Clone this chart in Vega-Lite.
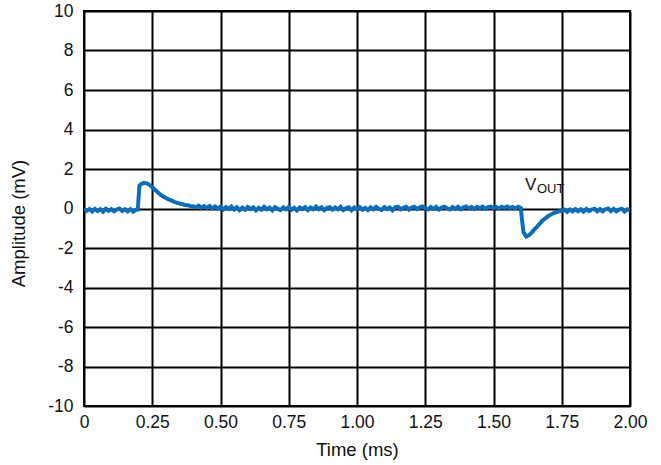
{
  "$schema": "https://vega.github.io/schema/vega-lite/v6.json",
  "width": 546,
  "height": 395,
  "autosize": "none",
  "padding": {"left": 84, "top": 11, "right": 31, "bottom": 59},
  "background": "white",
  "config": {
    "view": {"stroke": "black", "strokeWidth": 2},
    "axis": {
      "labelFont": "Liberation Sans",
      "titleFont": "Liberation Sans",
      "labelFontSize": 17.5,
      "titleFontSize": 18.5,
      "titleFontWeight": "normal",
      "labelColor": "#111",
      "titleColor": "#111",
      "grid": true,
      "gridColor": "black",
      "gridWidth": 2,
      "gridOpacity": 1,
      "domain": false,
      "ticks": false,
      "labelOverlap": false,
      "labelFlush": false,
      "labelBound": false
    }
  },
  "datasets": {
    "sig": [
      {"t":0.00,"v":-0.02},{"t":0.01,"v":-0.12},{"t":0.02,"v":-0.03},{"t":0.03,"v":-0.15},{"t":0.04,"v":-0.02},
      {"t":0.05,"v":-0.13},{"t":0.06,"v":-0.04},{"t":0.07,"v":-0.16},{"t":0.08,"v":-0.01},{"t":0.09,"v":-0.12},
      {"t":0.10,"v":-0.03},{"t":0.11,"v":-0.14},{"t":0.12,"v":-0.05},{"t":0.13,"v":0.00},{"t":0.14,"v":-0.13},
      {"t":0.15,"v":-0.04},{"t":0.16,"v":-0.15},{"t":0.17,"v":-0.03},{"t":0.18,"v":-0.16},{"t":0.19,"v":-0.07},
      {"t":0.197,"v":-0.06},{"t":0.203,"v":1.15},{"t":0.21,"v":1.24},{"t":0.22,"v":1.30},{"t":0.23,"v":1.27},
      {"t":0.24,"v":1.20},{"t":0.25,"v":1.08},{"t":0.26,"v":0.95},{"t":0.27,"v":0.82},{"t":0.28,"v":0.70},
      {"t":0.29,"v":0.61},{"t":0.30,"v":0.53},{"t":0.31,"v":0.46},{"t":0.32,"v":0.41},{"t":0.33,"v":0.34},
      {"t":0.34,"v":0.29},{"t":0.35,"v":0.25},{"t":0.36,"v":0.22},{"t":0.37,"v":0.18},{"t":0.38,"v":0.16},
      {"t":0.39,"v":0.13},{"t":0.40,"v":0.12},{"t":0.41,"v":0.06},{"t":0.42,"v":0.14},{"t":0.43,"v":0.04},
      {"t":0.44,"v":0.12},{"t":0.45,"v":0.03},{"t":0.46,"v":0.13},{"t":0.47,"v":0.01},{"t":0.48,"v":0.10},
      {"t":0.49,"v":0.00},{"t":0.50,"v":0.09},{"t":0.51,"v":-0.06},{"t":0.52,"v":0.07},{"t":0.53,"v":-0.02},
      {"t":0.54,"v":0.10},{"t":0.55,"v":-0.05},{"t":0.56,"v":0.06},{"t":0.57,"v":-0.09},{"t":0.58,"v":0.04},
      {"t":0.59,"v":-0.07},{"t":0.60,"v":0.08},{"t":0.61,"v":-0.03},{"t":0.62,"v":0.06},{"t":0.63,"v":-0.10},
      {"t":0.64,"v":0.03},{"t":0.65,"v":-0.06},{"t":0.66,"v":0.09},{"t":0.67,"v":-0.04},{"t":0.68,"v":0.05},
      {"t":0.69,"v":-0.09},{"t":0.70,"v":0.07},{"t":0.71,"v":-0.02},{"t":0.72,"v":-0.08},{"t":0.73,"v":0.06},
      {"t":0.74,"v":-0.04},{"t":0.75,"v":0.08},{"t":0.76,"v":-0.07},{"t":0.77,"v":0.03},{"t":0.78,"v":-0.10},
      {"t":0.79,"v":0.05},{"t":0.80,"v":-0.03},{"t":0.81,"v":0.07},{"t":0.82,"v":-0.08},{"t":0.83,"v":0.05},
      {"t":0.84,"v":-0.04},{"t":0.85,"v":0.10},{"t":0.86,"v":-0.03},{"t":0.87,"v":0.06},{"t":0.88,"v":-0.09},
      {"t":0.89,"v":0.03},{"t":0.90,"v":0.07},{"t":0.91,"v":-0.06},{"t":0.92,"v":0.05},{"t":0.93,"v":-0.04},
      {"t":0.94,"v":0.08},{"t":0.95,"v":-0.08},{"t":0.96,"v":0.02},{"t":0.97,"v":0.06},{"t":0.98,"v":-0.09},
      {"t":0.99,"v":0.05},{"t":1.00,"v":-0.03},{"t":1.01,"v":0.07},{"t":1.02,"v":-0.06},{"t":1.03,"v":0.03},
      {"t":1.04,"v":-0.08},{"t":1.05,"v":0.06},{"t":1.06,"v":-0.04},{"t":1.07,"v":0.08},{"t":1.08,"v":-0.02},
      {"t":1.09,"v":-0.07},{"t":1.10,"v":0.07},{"t":1.11,"v":-0.03},{"t":1.12,"v":0.05},{"t":1.13,"v":-0.09},
      {"t":1.14,"v":0.06},{"t":1.15,"v":0.09},{"t":1.16,"v":-0.04},{"t":1.17,"v":0.03},{"t":1.18,"v":0.08},
      {"t":1.19,"v":-0.06},{"t":1.20,"v":0.05},{"t":1.21,"v":0.09},{"t":1.22,"v":-0.03},{"t":1.23,"v":0.06},
      {"t":1.24,"v":0.10},{"t":1.25,"v":0.01},{"t":1.26,"v":-0.05},{"t":1.27,"v":0.07},{"t":1.28,"v":-0.02},
      {"t":1.29,"v":0.08},{"t":1.30,"v":-0.06},{"t":1.31,"v":0.05},{"t":1.32,"v":0.09},{"t":1.33,"v":0.01},
      {"t":1.34,"v":-0.05},{"t":1.35,"v":0.07},{"t":1.36,"v":-0.02},{"t":1.37,"v":0.08},{"t":1.38,"v":-0.04},
      {"t":1.39,"v":0.06},{"t":1.40,"v":0.10},{"t":1.41,"v":0.01},{"t":1.42,"v":0.07},{"t":1.43,"v":-0.03},
      {"t":1.44,"v":0.08},{"t":1.45,"v":0.02},{"t":1.46,"v":0.09},{"t":1.47,"v":-0.02},{"t":1.48,"v":0.07},
      {"t":1.49,"v":0.10},{"t":1.50,"v":0.02},{"t":1.51,"v":0.08},{"t":1.52,"v":-0.01},{"t":1.53,"v":0.09},
      {"t":1.54,"v":0.03},{"t":1.55,"v":0.10},{"t":1.56,"v":0.02},{"t":1.57,"v":0.08},{"t":1.58,"v":-0.01},
      {"t":1.59,"v":0.09},{"t":1.60,"v":0.03},{"t":1.605,"v":-0.65},{"t":1.61,"v":-1.20},{"t":1.62,"v":-1.42},
      {"t":1.63,"v":-1.35},{"t":1.64,"v":-1.22},{"t":1.65,"v":-1.06},{"t":1.66,"v":-0.92},{"t":1.67,"v":-0.76},
      {"t":1.68,"v":-0.60},{"t":1.69,"v":-0.50},{"t":1.70,"v":-0.39},{"t":1.71,"v":-0.31},{"t":1.72,"v":-0.23},
      {"t":1.73,"v":-0.19},{"t":1.74,"v":-0.14},{"t":1.75,"v":-0.12},{"t":1.76,"v":-0.06},{"t":1.77,"v":-0.17},
      {"t":1.78,"v":-0.05},{"t":1.79,"v":-0.15},{"t":1.80,"v":-0.03},{"t":1.81,"v":-0.14},{"t":1.82,"v":-0.04},
      {"t":1.83,"v":-0.16},{"t":1.84,"v":-0.02},{"t":1.85,"v":-0.13},{"t":1.86,"v":-0.05},{"t":1.87,"v":-0.01},
      {"t":1.88,"v":-0.14},{"t":1.89,"v":-0.03},{"t":1.90,"v":-0.15},{"t":1.91,"v":-0.04},{"t":1.92,"v":0.00},
      {"t":1.93,"v":-0.13},{"t":1.94,"v":-0.02},{"t":1.95,"v":-0.14},{"t":1.96,"v":-0.05},{"t":1.97,"v":-0.01},
      {"t":1.98,"v":-0.15},{"t":1.99,"v":-0.04},{"t":2.00,"v":-0.10}
    ],
    "lab": [
      {"t":1.615,"v":0.94,"txt":"V","kind":"main"},
      {"t":1.659,"v":0.77,"txt":"OUT","kind":"sub"}
    ]
  },
  "layer": [
    {
      "data": {"name": "sig"},
      "mark": {"type": "line", "color": "#0A6EBD", "strokeWidth": 4, "clip": true},
      "encoding": {
        "x": {
          "field": "t", "type": "quantitative",
          "scale": {"domain": [0, 2], "nice": false},
          "axis": {
            "title": "Time (ms)",
            "values": [0, 0.25, 0.5, 0.75, 1, 1.25, 1.5, 1.75, 2],
            "tickCount": 20,
            "labelExpr": "datum.value == 0 ? '0' : format(datum.value, '.2f')",
            "labelPadding": 7,
            "titlePadding": 10
          }
        },
        "y": {
          "field": "v", "type": "quantitative",
          "scale": {"domain": [-10, 10], "nice": false},
          "axis": {
            "title": "Amplitude (mV)",
            "values": [-10, -8, -6, -4, -2, 0, 2, 4, 6, 8, 10],
            "tickCount": 20,
            "labelExpr": "'' + datum.value",
            "labelPadding": 11,
            "titlePadding": 19,
            "titleY": 212
          }
        }
      }
    },
    {
      "data": {"name": "lab"},
      "transform": [{"filter": "datum.kind == 'main'"}],
      "mark": {"type": "text", "align": "left", "baseline": "alphabetic", "font": "Liberation Sans", "fontSize": 17, "color": "#111"},
      "encoding": {
        "x": {"field": "t", "type": "quantitative"},
        "y": {"field": "v", "type": "quantitative"},
        "text": {"field": "txt"}
      }
    },
    {
      "data": {"name": "lab"},
      "transform": [{"filter": "datum.kind == 'sub'"}],
      "mark": {"type": "text", "align": "left", "baseline": "alphabetic", "font": "Liberation Sans", "fontSize": 13, "color": "#111"},
      "encoding": {
        "x": {"field": "t", "type": "quantitative"},
        "y": {"field": "v", "type": "quantitative"},
        "text": {"field": "txt"}
      }
    }
  ]
}
